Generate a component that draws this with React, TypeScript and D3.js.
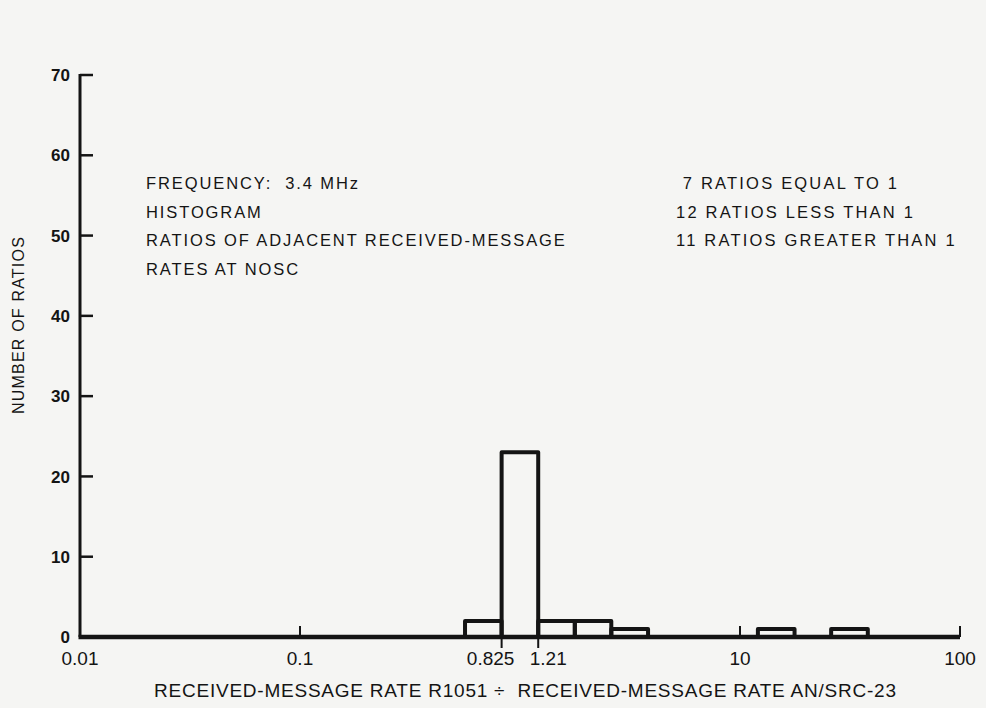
import React from 'react';
import * as d3 from 'd3';

// ---- data ----
const binLow = [0.5625, 0.825, 1.21, 1.775, 2.6, 12.06, 25.96];
const binHigh = [0.825, 1.21, 1.775, 2.6, 3.82, 17.7, 38.1];
const counts = [2, 23, 2, 2, 1, 1, 1];
const yTicks = [0, 10, 20, 30, 40, 50, 60, 70];
const xMajorTicks = [0.01, 0.1, 10, 100];
const xMajorLabels = ['0.01', '0.1', '10', '100'];
const xBinTicks = [0.825, 1.21];
const xBinLabels = ['0.825', '1.21'];
const infoLines = ['FREQUENCY:  3.4 MHz', 'HISTOGRAM', 'RATIOS OF ADJACENT RECEIVED-MESSAGE', 'RATES AT NOSC'];
const summaryLines = [' 7 RATIOS EQUAL TO 1', '12 RATIOS LESS THAN 1', '11 RATIOS GREATER THAN 1'];
const xTitle = 'RECEIVED-MESSAGE RATE R1051 \u00F7  RECEIVED-MESSAGE RATE AN/SRC-23';
const yTitle = 'NUMBER OF RATIOS';

const W = 986;
const H = 708;
const INK = '#141414';
const BG = '#f5f5f3';
const SANS = '"Liberation Sans", Arial, Helvetica, sans-serif';
const NARROW = '"Liberation Sans Narrow", "Liberation Sans", Arial, sans-serif';

export default function App() {
  const x = d3.scaleLog().domain([0.01, 100]).range([80, 960]);
  const y = d3.scaleLinear().domain([0, 70]).range([637, 75]);
  const base = y(0);

  const bars = binLow.map((lo, i) => {
    const p = d3.path();
    p.moveTo(x(lo), base);
    p.lineTo(x(lo), y(counts[i]));
    p.lineTo(x(binHigh[i]), y(counts[i]));
    p.lineTo(x(binHigh[i]), base);
    return p.toString();
  });

  return (
    <svg
      width={W}
      height={H}
      viewBox={`0 0 ${W} ${H}`}
      style={{ position: 'absolute', left: 0, top: 0, display: 'block', background: BG }}
    >
      <rect x={0} y={0} width={W} height={H} fill={BG} />

      {/* y axis */}
      <line x1={x(0.01)} x2={x(0.01)} y1={y(70) - 1} y2={base} stroke={INK} strokeWidth={3} />
      {yTicks.map((t) => (
        <g key={'yt' + t}>
          {t > 0 && (
            <line x1={x(0.01)} x2={x(0.01) + 13} y1={y(t)} y2={y(t)} stroke={INK} strokeWidth={2.5} />
          )}
          <text
            x={x(0.01) - 10}
            y={y(t)}
            dy="0.36em"
            textAnchor="end"
            fontFamily={SANS}
            fontWeight="bold"
            fontSize={17}
            fill={INK}
          >
            {t}
          </text>
        </g>
      ))}

      {/* bars */}
      {bars.map((d, i) => (
        <path key={'b' + i} d={d} fill="none" stroke={INK} strokeWidth={4} strokeLinejoin="round" />
      ))}

      {/* baseline */}
      <line x1={x(0.01) - 1.5} x2={x(100)} y1={base} y2={base} stroke={INK} strokeWidth={4.5} />

      {/* x major ticks (inward) */}
      {xMajorTicks.map((t, i) => (
        <g key={'xt' + t}>
          {t !== 0.01 && (
            <line x1={x(t)} x2={x(t)} y1={base} y2={base - 11} stroke={INK} strokeWidth={2} />
          )}
          <text
            x={x(t)}
            y={base + 28}
            textAnchor="middle"
            fontFamily={NARROW}
            fontSize={19}
            fill={INK}
          >
            {xMajorLabels[i]}
          </text>
        </g>
      ))}
      {/* bin edge ticks (outward) */}
      {xBinTicks.map((t, i) => (
        <g key={'xb' + t}>
          <line x1={x(t)} x2={x(t)} y1={base} y2={base + 11} stroke={INK} strokeWidth={2} />
          <text
            x={x(t)}
            dx={i === 0 ? -11 : 10}
            y={base + 28}
            textAnchor="middle"
            fontFamily={NARROW}
            fontSize={19}
            fill={INK}
          >
            {xBinLabels[i]}
          </text>
        </g>
      ))}

      {/* axis titles */}
      <text
        x={525}
        y={697}
        textAnchor="middle"
        fontFamily={NARROW}
        fontSize={19}
        fill={INK}
        textLength={742}
        lengthAdjust="spacing"
        style={{ whiteSpace: 'pre' }}
      >
        {xTitle}
      </text>
      <text
        transform="translate(24,325) rotate(-90)"
        textAnchor="middle"
        fontFamily={SANS}
        fontSize={16}
        letterSpacing={1.2}
        fill={INK}
      >
        {yTitle}
      </text>

      {/* annotations */}
      {infoLines.map((s, i) => (
        <text
          key={'il' + i}
          x={146}
          y={189 + i * 28.5}
          fontFamily={SANS}
          fontSize={16.5}
          letterSpacing={1.9}
          fill={INK}
          style={{ whiteSpace: 'pre' }}
        >
          {s}
        </text>
      ))}
      {summaryLines.map((s, i) => (
        <text
          key={'sl' + i}
          x={676}
          y={189 + i * 28.5}
          fontFamily={SANS}
          fontSize={16.5}
          letterSpacing={2.2}
          fill={INK}
          style={{ whiteSpace: 'pre' }}
        >
          {s}
        </text>
      ))}
    </svg>
  );
}
